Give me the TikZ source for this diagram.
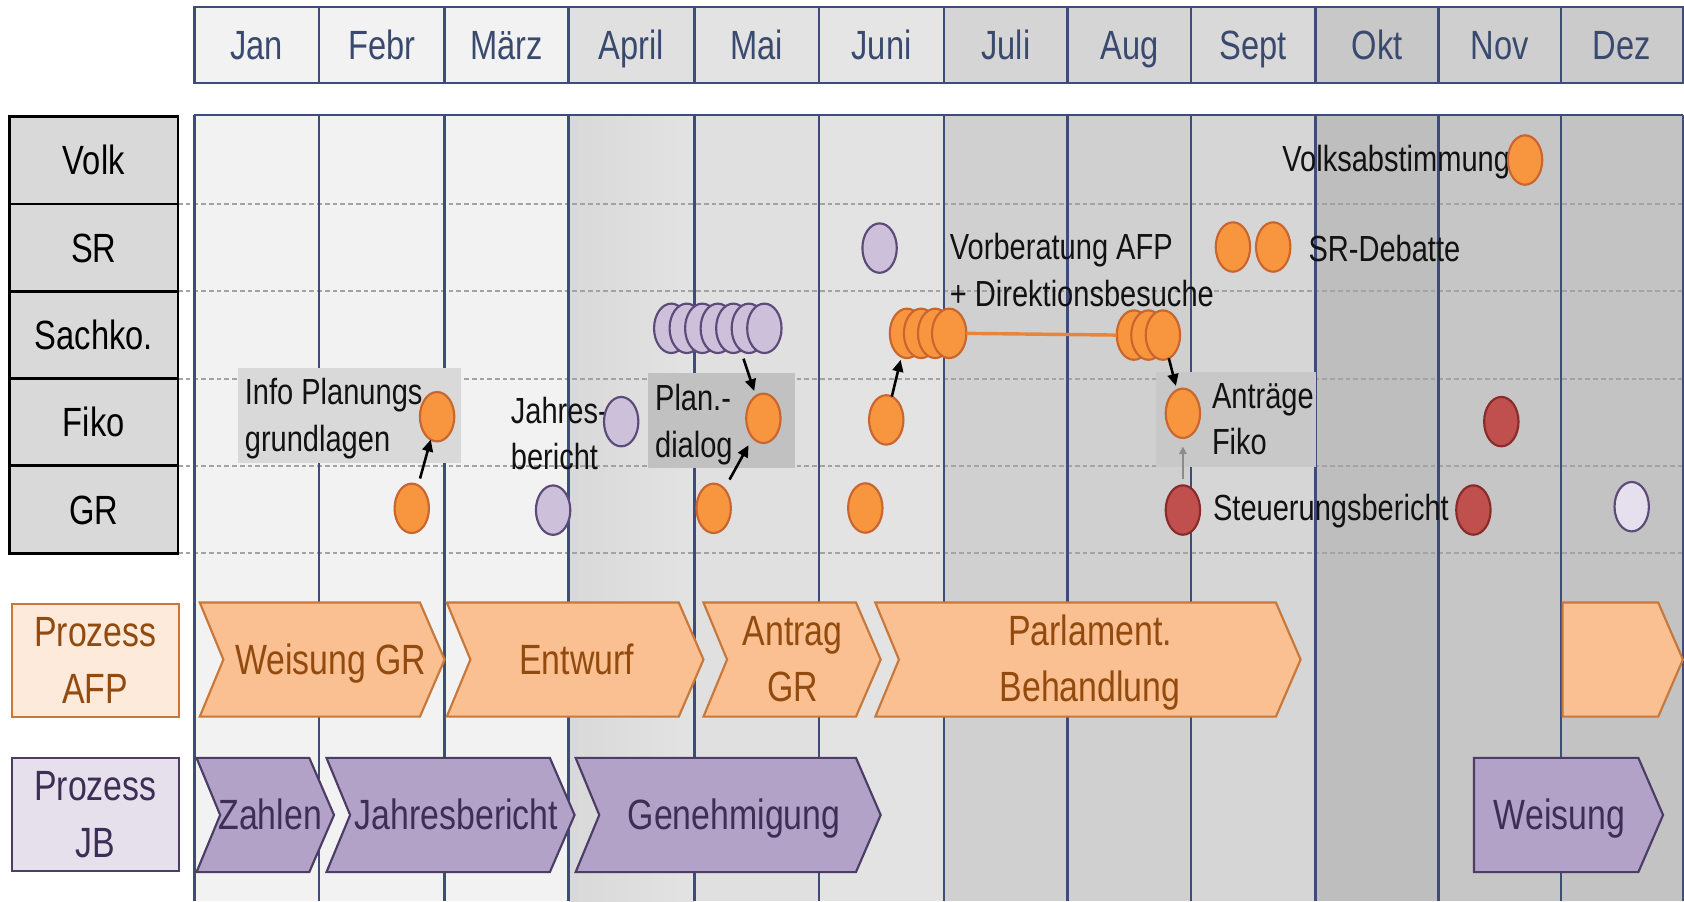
\documentclass[tikz,border=0pt]{standalone}
\usepackage{fontspec}
\setmainfont{Liberation Sans}[FakeStretch=0.8]
\usetikzlibrary{shapes.geometric,arrows.meta}
\definecolor{navy}{HTML}{3E4C78}
\definecolor{mtext}{HTML}{3A4A6E}
\definecolor{orF}{HTML}{F7963F}
\definecolor{orD}{HTML}{C9652E}
\definecolor{orL}{HTML}{E9853B}
\definecolor{puF}{HTML}{CCC0DA}
\definecolor{puD}{HTML}{5C4A78}
\definecolor{puL}{HTML}{E6E0EE}
\definecolor{rdF}{HTML}{C0504D}
\definecolor{rdD}{HTML}{8A2B2B}
\definecolor{afpF}{HTML}{FAC091}
\definecolor{afpD}{HTML}{C8783A}
\definecolor{afpT}{HTML}{924A0E}
\definecolor{afpL}{HTML}{FDEADA}
\definecolor{jbF}{HTML}{B3A2C7}
\definecolor{jbD}{HTML}{4B3D66}
\definecolor{jbT}{HTML}{3C2E55}
\definecolor{jbL}{HTML}{E6E0EC}
\definecolor{rowF}{HTML}{D9D9D9}
\definecolor{dashgray}{HTML}{A3A3A3}
\newcommand\ftstrut{\rule{0pt}{12.5pt}}
\newcommand\chstrut{\rule{0pt}{14.5pt}}
\newcommand\chevN[5]{\draw[#1] (#2,#4) -- ({#3-23},#4) -- (#3,{(#4+#5)/2}) -- ({#3-23},#5) -- (#2,#5) -- ({#2+22},{(#4+#5)/2}) -- cycle;}
\newcommand\chevF[5]{\draw[#1] (#2,#4) -- ({#3-23},#4) -- (#3,{(#4+#5)/2}) -- ({#3-23},#5) -- (#2,#5) -- cycle;}
\tikzset{
 every node/.style={inner sep=0pt, outer sep=0pt},
 mon/.style={draw=navy, line width=1.1pt, minimum height=35.1pt, font=\fontsize{19}{22}\selectfont, text=mtext, text height=13.6pt, text depth=0pt},
 rowlab/.style={draw=black, line width=1.3pt, fill=rowF, minimum width=78.35pt, minimum height=40.65pt, font=\fontsize{19}{22}\selectfont, text height=13.6pt, text depth=0pt},
 dot/.style={ellipse, minimum width=16pt, minimum height=23pt, line width=1pt},
 od/.style={dot, fill=orF, draw=orD},
 pd/.style={dot, fill=puF, draw=puD},
 rd/.style={dot, fill=rdF, draw=rdD},
 ld/.style={dot, fill=puL, draw=puD},
 ann/.style={font=\fontsize{16.9}{21.8}\selectfont, text=black!93},
 afpt/.style={font=\fontsize{19.7}{26.3}\selectfont, text=afpT},
 jbt/.style={font=\fontsize{19.7}{26.3}\selectfont, text=jbT},
 afpchev/.style={fill=afpF, draw=afpD, line width=1pt},
 jbchev/.style={fill=jbF, draw=jbD, line width=1pt},
 procafp/.style={draw=afpD, fill=afpL, line width=1pt, minimum width=77.75pt, minimum height=52.45pt, align=center, font=\fontsize{19.7}{26.3}\selectfont, text=afpT},
 procjb/.style={draw=jbD, fill=jbL, line width=1pt, minimum width=77.75pt, minimum height=52.75pt, align=center, font=\fontsize{19.7}{26.3}\selectfont, text=jbT},
 arr/.style={-{Triangle[length=5.5pt,width=5pt]}, line width=1.2pt, black},
 garr/.style={-{Triangle[length=3.5pt,width=3.5pt]}, line width=0.7pt, black!45},
 orline/.style={draw=orL, line width=1.6pt},
 mline/.style={navy, line width=1.1pt},
}
\begin{document}
\begin{tikzpicture}[x=0.5pt, y=-0.5pt]
\clip (0,0) rectangle (1568,839);
\fill[white] (0,0) rectangle (1568,839);
% body columns
\fill[black!5] (181,107) rectangle (529.5,839);
\shade[left color=black!15, right color=black!11] (529.5,107) rectangle (646.5,839);
\fill[black!12] (646.5,107) rectangle (762.5,839);
\fill[black!11] (762.5,107) rectangle (879,839);
\fill[black!18.5] (879,107) rectangle (1109,839);
\fill[black!16] (1109,107) rectangle (1225,839);
\fill[black!25.5] (1225,107) rectangle (1339.5,839);
\fill[black!22.5] (1339.5,107) rectangle (1453.5,839);
\fill[black!23.5] (1453.5,107) rectangle (1568,839);
% dashed row lines
\foreach \y in {189.9,271.2,352.5,433.8,515.1}
  \draw[dashgray, line width=0.9pt, dash pattern=on 2.2pt off 1.4pt] (165.7,\y) -- (1567,\y);
% month lines
\foreach \x in {181,297,414,529.5,646.5,762.5,879,994,1109,1225,1339.5,1453.5,1567}
  \draw[mline] (\x,107) -- (\x,839);
\draw[mline] (181,107) -- (1567,107);
% header
\node[mon, fill=black!5, minimum width=58pt] (hJan) at (239,41.9) {Jan};
\node[mon, fill=black!5, minimum width=58.5pt] (hFeb) at (355.5,41.9) {Febr};
\node[mon, fill=black!5, minimum width=57.75pt] (hMar) at (471.75,41.9) {März};
\node[mon, fill=black!12, minimum width=58.5pt] (hApr) at (588,41.9) {April};
\node[mon, fill=black!11, minimum width=58pt] (hMai) at (704.5,41.9) {Mai};
\node[mon, fill=black!10, minimum width=58.25pt] (hJun) at (820.75,41.9) {Juni};
\node[mon, fill=black!16.5, minimum width=57.5pt] (hJul) at (936.5,41.9) {Juli};
\node[mon, fill=black!16.5, minimum width=57.5pt] (hAug) at (1051.5,41.9) {Aug};
\node[mon, fill=black!15, minimum width=58pt] (hSep) at (1167,41.9) {Sept};
\node[mon, fill=black!21.5, minimum width=57.25pt] (hOkt) at (1282.25,41.9) {Okt};
\node[mon, fill=black!19, minimum width=57pt] (hNov) at (1396.5,41.9) {Nov};
\node[mon, fill=black!20.5, minimum width=56.75pt] (hDez) at (1510.25,41.9) {Dez};
% row labels
\node[rowlab] (rVolk) at (87.35,149.25) {Volk};
\node[rowlab] (rSR) at (87.35,230.55) {SR};
\node[rowlab] (rSach) at (87.35,311.85) {Sachko.};
\node[rowlab] (rFiko) at (87.35,393.15) {Fiko};
\node[rowlab] (rGR) at (87.35,474.45) {GR};
% grey label boxes
\fill[black!15] (221.7,342.7) rectangle (429.5,431);
\fill[black!24.5] (603,347) rectangle (740,436);
\fill[black!21.5] (1076.2,346) rectangle (1225.3,434.5);
% process AFP chevrons
\chevN{afpchev}{186}{414}{561}{667.3}
\chevN{afpchev}{416}{655}{561}{667.3}
\chevN{afpchev}{655}{820}{561}{667.3}
\chevN{afpchev}{815}{1211}{561}{667.3}
\chevF{afpchev}{1455}{1567}{561}{667.3}
% process JB chevrons
\chevN{jbchev}{183}{311}{705.7}{812}
\chevN{jbchev}{304}{535}{705.7}{812}
\chevN{jbchev}{536}{820}{705.7}{812}
\chevF{jbchev}{1372.5}{1548.5}{705.7}{812}
% process boxes
\node[procafp] (pAFP) at (88.75,614.85) {Prozess\\AFP};
\node[procjb] (pJB) at (88.75,758.35) {Prozess\\JB};
% chevron texts
\node[afpt, anchor=base] (cWeis) at (308,628.5) {Weisung GR};
\node[afpt, anchor=base] (cEntw) at (537,628.5) {Entwurf};
\node[afpt, anchor=north, align=center] (cAntr) at (738,571.6) {\chstrut Antrag\\GR};
\node[afpt, anchor=north, align=center] (cParl) at (1015,571.6) {\chstrut Parlament.\\Behandlung};
\node[jbt, anchor=base] (cZahl) at (251.5,772.8) {Zahlen};
\node[jbt, anchor=base] (cJahr) at (425,772.8) {Jahresbericht};
\node[jbt, anchor=base] (cGen) at (683.5,772.8) {Genehmigung};
\node[jbt, anchor=base] (cWJB) at (1452,772.8) {Weisung};
% annotations
\node[ann, anchor=base east] (tVolk) at (1406,160) {Volksabstimmung};
\node[ann, anchor=base west] (tSR) at (1218.4,243.6) {SR-Debatte};
\node[ann, anchor=north west, align=left] (tVor) at (884.5,217) {\ftstrut Vorberatung AFP\\+ Direktionsbesuche};
\node[ann, anchor=north west, align=left] (tInfo) at (228,352) {\ftstrut Info Planungs\\grundlagen};
\node[ann, anchor=north west, align=left] (tJB) at (475.7,369) {\ftstrut Jahres-\\bericht};
\node[ann, anchor=north west, align=left] (tPlan) at (610,357) {\ftstrut Plan.-\\dialog};
\node[ann, anchor=north west, align=left] (tAntr) at (1128.5,355) {\ftstrut Anträge\\Fiko};
\node[ann, anchor=base west] (tSteu) at (1129.5,484.8) {Steuerungsbericht};
% circles: Volk, SR
\node[od] (vo) at (1420,149) {};
\node[pd] (sp) at (819,231) {};
\node[od] (so1) at (1148,230) {};
\node[od] (so2) at (1185.5,230) {};
% Sachko stacks
\node[pd] (p1) at (625,305.7) {};
\node[pd] (p2) at (639.45,305.7) {};
\node[pd] (p3) at (653.9,305.7) {};
\node[pd] (p4) at (668.35,305.7) {};
\node[pd] (p5) at (682.8,305.7) {};
\node[pd] (p6) at (697.25,305.7) {};
\node[pd] (p7) at (711.7,305.7) {};
\node[od] (o1) at (844.5,310.4) {};
\node[od] (o2) at (857.6,310.4) {};
\node[od] (o3) at (870.7,310.4) {};
\node[od] (o4) at (883.8,310.4) {};
\node[od] (a1) at (1055.8,312) {};
\node[od] (a2) at (1069.3,312) {};
\node[od] (a3) at (1082.8,312) {};
% Fiko
\node[od] (f1) at (407,388) {};
\node[pd] (fj) at (578.4,392.6) {};
\node[od] (mf) at (710.8,389.5) {};
\node[od] (jf) at (825.2,391) {};
\node[od] (af) at (1101.4,384.8) {};
\node[rd] (fr) at (1397.9,392.6) {};
% GR
\node[od] (g1) at (383.4,473.3) {};
\node[pd] (g2) at (515,475) {};
\node[od] (g3) at (664.5,473.3) {};
\node[od] (g4) at (805.7,473) {};
\node[rd] (gr1) at (1101.4,474.9) {};
\node[rd] (gr2) at (1371.9,474.9) {};
\node[ld] (g5) at (1519.3,471.8) {};
% connectors
\draw[orline] (o4.east) -- (a1.west);
\draw[arr, shorten <=3.3pt] (g1) -- (f1);
\draw[arr, shorten <=5pt, shorten >=4pt] (g3) -- (mf);
\draw[arr, shorten >=1.5pt] (jf) -- (o1);
\draw[arr, shorten <=4pt, shorten >=2.5pt] (p5) -- (mf);
\draw[arr, shorten >=2pt] (a3) -- (af);
\draw[garr, shorten <=3pt, shorten >=4pt] (gr1) -- (af);
\end{tikzpicture}
\end{document}
